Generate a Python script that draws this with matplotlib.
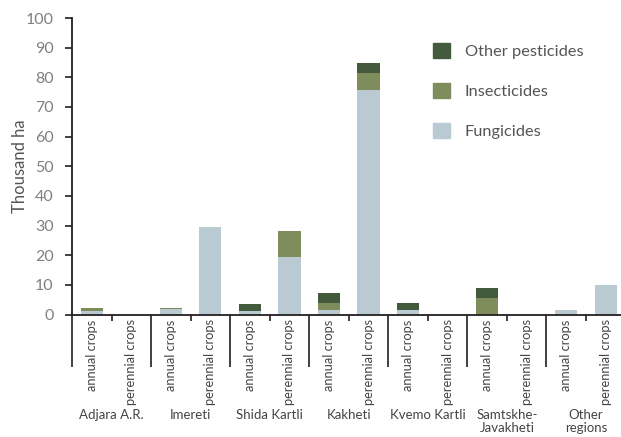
import matplotlib
matplotlib.use('Agg')
import matplotlib.pyplot as plt
import matplotlib.transforms as mtransforms
from matplotlib.patches import Patch
import numpy as np

plt.rcParams['font.family'] = ['Lato', 'DejaVu Sans']

# ---- data (thousand ha) ----
regions = ['Adjara A.R.', 'Imereti', 'Shida Kartli', 'Kakheti',
           'Kvemo Kartli', 'Samtskhe-\nJavakheti', 'Other\nregions']
crops = ['annual crops', 'perennial crops']
fungicides = [1.3, 0.0, 1.7, 29.6, 1.3, 19.5, 1.6, 75.7, 1.6, 0.0, 0.0, 0.0, 1.6, 10.1]
insecticides = [1.0, 0.0, 0.6, 0.0, 0.0, 8.7, 2.4, 5.8, 0.0, 0.0, 5.4, 0.0, 0.0, 0.0]
other_pesticides = [0.0, 0.0, 0.0, 0.0, 2.1, 0.0, 3.1, 3.3, 2.4, 0.0, 3.4, 0.0, 0.0, 0.0]

C_FUNG = '#bacad2'
C_INS = '#7f8c5b'
C_OTH = '#435a3c'
AXC = '#231f20'

fig = plt.figure(figsize=(6.21, 4.37), dpi=100)
ax = fig.add_axes([72 / 621, 122.5 / 437, 553.5 / 621, 296.5 / 437])

n = len(fungicides)
x = np.arange(n) + 0.5
w = 0.56
f = np.array(fungicides)
i = np.array(insecticides)
o = np.array(other_pesticides)
ax.bar(x, f, w, color=C_FUNG, linewidth=0)
ax.bar(x, i, w, bottom=f, color=C_INS, linewidth=0)
ax.bar(x, o, w, bottom=f + i, color=C_OTH, linewidth=0)

ax.set_xlim(0, n)
ax.set_ylim(0, 100)
ax.set_yticks(np.arange(0, 101, 10))
ax.tick_params(axis='y', direction='out', length=4.8, width=1.2, color=AXC,
               pad=8.5, labelsize=11.5, labelcolor='#808080')
ax.set_ylabel('Thousand ha', fontsize=12, color='#555555', labelpad=-2)

# bar labels on major ticks, within-group separators on minor ticks
ax.set_xticks(x)
ax.set_xticklabels(crops * len(regions), rotation=90, fontsize=9.3, color='#444444')
ax.tick_params(axis='x', which='major', length=0, pad=3.5)
ax.set_xticks(np.arange(1, n, 2), minor=True)
ax.tick_params(axis='x', which='minor', length=4.5, width=1.2, color=AXC)

for s in ['top', 'right']:
    ax.spines[s].set_visible(False)
for s in ['left', 'bottom']:
    ax.spines[s].set_color(AXC)
    ax.spines[s].set_linewidth(1.3)

# group separators and region names
trans = mtransforms.blended_transform_factory(ax.transData, ax.transAxes)
ax.vlines(np.arange(0, n + 1, 2), -0.177, 0, transform=trans, color=AXC,
          linewidth=1.2, clip_on=False)
for k, r in enumerate(regions):
    ax.text(2 * k + 1, -0.318, r, transform=trans, ha='center', va='top',
            fontsize=9.5, color='#444444', linespacing=1.15)

handles = [Patch(color=C_OTH, label='Other pesticides'),
           Patch(color=C_INS, label='Insecticides'),
           Patch(color=C_FUNG, label='Fungicides')]
ax.legend(handles=handles, loc='upper left', bbox_to_anchor=(433 / 621, 1 - 43 / 437),
          bbox_transform=fig.transFigure, frameon=False, fontsize=11.8,
          handlelength=1.04, handleheight=1.04, handletextpad=0.9,
          labelspacing=1.45, borderpad=0, borderaxespad=0, labelcolor='#555555')

fig.savefig('out.png', dpi=100)
